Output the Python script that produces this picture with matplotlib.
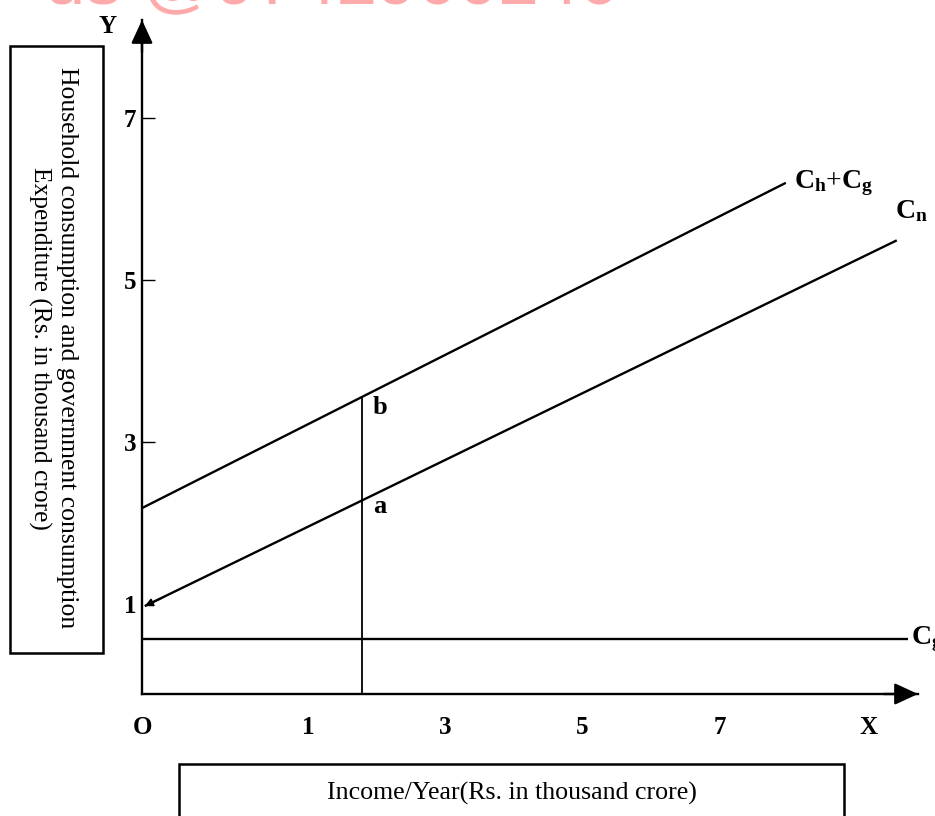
import matplotlib
matplotlib.use("Agg")
import matplotlib.pyplot as plt
from matplotlib.patches import Rectangle

W, H = 935, 816
plt.rcParams["font.family"] = ["Liberation Serif", "DejaVu Serif"]
plt.rcParams["mathtext.fontset"] = "custom"
plt.rcParams["mathtext.rm"] = "Liberation Serif"
plt.rcParams["mathtext.bf"] = "Liberation Serif:bold"
plt.rcParams["mathtext.it"] = "Liberation Serif:italic"

# ---------------- data (schematic value coordinates) ----------------
x_tick_values = [1, 3, 5, 7]
y_tick_values = [1, 3, 5, 7]
x_origin, x_end = -1.43, 9.9        # axis starts at the origin "O"
y_origin, y_end = -0.11, 8.21
x_letter_pos = 9.18                  # position of the "X" label

chcg_x = [-1.43, 7.97]               # C_h + C_g line
chcg_y = [2.185, 6.20]
cn_x = [-1.39, 9.59]                 # C_n line
cn_y = [0.975, 5.49]
cg_x = [-1.43, 9.75]                 # C_g (government) horizontal line
cg_y = [0.568, 0.568]
income_x = 1.78                      # vertical income line
point_b = (1.78, 3.556)
point_a = (1.78, 2.278)

y_title = "Household consumption and government consumption"
y_title2 = "Expenditure (Rs. in thousand crore)"
x_title = "Income/Year(Rs. in thousand crore)"

# ---------------- figure ----------------
fig = plt.figure(figsize=(W / 100, H / 100), dpi=100)
fig.patch.set_facecolor("white")

def fx(px):
    return px / W

def fy(py):
    return 1 - py / H

ax = fig.add_axes([fx(142), fy(694), (918 - 142) / W, (694 - 20) / H])
ax.set_xlim(x_origin, x_end)
ax.set_ylim(y_origin, y_end)
ax.patch.set_alpha(0)
for s in ["top", "right"]:
    ax.spines[s].set_visible(False)
for s in ["left", "bottom"]:
    ax.spines[s].set_linewidth(1.7)
    ax.spines[s].set_color("black")

# ticks
ax.set_xticks([x_origin] + x_tick_values + [x_letter_pos],
              ["O"] + [str(v) for v in x_tick_values] + ["X"])
ax.tick_params(axis="x", length=0, pad=16, labelsize=18)
for lab in ax.get_xticklabels():
    lab.set_fontweight("bold")
ax.set_yticks(y_tick_values, [str(v) for v in y_tick_values])
ax.tick_params(axis="y", direction="in", length=9, width=1.0, pad=4, labelsize=18)
for lab in ax.get_yticklabels():
    lab.set_fontweight("bold")
ax.yaxis.get_major_ticks()[0].tick1line.set_visible(False)

# axis arrowheads
arrow_kw = dict(arrowstyle="-|>,head_length=0.65,head_width=0.3", color="black",
                lw=1.7, mutation_scale=22, shrinkA=0, shrinkB=0)
ax.annotate("", xy=(x_end, y_origin), xytext=(x_end - 0.5, y_origin),
            arrowprops=arrow_kw, annotation_clip=False)
ax.annotate("", xy=(x_origin, y_end), xytext=(x_origin, y_end - 0.4),
            arrowprops=arrow_kw, annotation_clip=False)
ax.text(-1.94, 8.13, "Y", fontsize=18, fontweight="bold", ha="center", va="center")

# lines
lw = 1.7
ax.plot(chcg_x, chcg_y, color="black", lw=lw, clip_on=False, solid_capstyle="butt")
ax.plot(cn_x, cn_y, color="black", lw=lw, clip_on=False, solid_capstyle="butt")
ax.plot(cg_x, cg_y, color="black", lw=lw, clip_on=False, solid_capstyle="butt")
ax.plot([income_x, income_x], [y_origin, point_b[1]], color="black", lw=1.3)
# little arrowhead at start of C_n
ax.annotate("", xy=(cn_x[0], cn_y[0]), xytext=(cn_x[0] + 0.25, cn_y[0] + 0.1),
            arrowprops=dict(arrowstyle="-|>,head_length=0.4,head_width=0.2",
                            color="black", lw=1.2, mutation_scale=12,
                            shrinkA=0, shrinkB=0))

# point labels
ax.text(point_b[0] + 0.16, point_b[1] - 0.13, "b", fontsize=19, fontweight="bold",
        ha="left", va="center")
ax.text(point_a[0] + 0.16, point_a[1] - 0.07, "a", fontsize=19, fontweight="bold",
        ha="left", va="center")

# line labels
ax.text(chcg_x[1] + 0.12, chcg_y[1], r"$\mathbf{C_h}$+$\mathbf{C_g}$", fontsize=20,
        ha="left", va="center", clip_on=False)
ax.text(cn_x[1] - 0.02, cn_y[1] + 0.2, r"$\mathbf{C_n}$", fontsize=20,
        ha="left", va="bottom", clip_on=False)
ax.text(cg_x[1] + 0.05, cg_y[1], r"$\mathbf{C_g}$", fontsize=20,
        ha="left", va="center", clip_on=False)

# ---------------- boxes with titles ----------------
fig.patches.append(Rectangle((fx(10), fy(653)), (103 - 10) / W, (653 - 46) / H,
                             transform=fig.transFigure, fill=False, lw=1.8,
                             edgecolor="black"))
fig.patches.append(Rectangle((fx(179), fy(830)), (844 - 179) / W, (830 - 764) / H,
                             transform=fig.transFigure, fill=False, lw=1.8,
                             edgecolor="black"))

t1 = fig.text(fx(67), fy(348), y_title, rotation=270, ha="center", va="center",
              fontsize=15)
t2 = fig.text(fx(40), fy(348), y_title2, rotation=270, ha="center", va="center",
              fontsize=15)
t3 = fig.text(fx(512), fy(793), x_title, ha="center", va="center", fontsize=15)

# watermark fragment at the top
wm = fig.text(fx(45), fy(3), "us @9742900240", color="#ffaaaa", fontsize=50,
              family="Liberation Sans", ha="left", va="baseline")

fig.canvas.draw()
r = fig.canvas.get_renderer()

def fit(t, target, vertical=False):
    for _ in range(3):
        bb = t.get_window_extent(r)
        cur = bb.height if vertical else bb.width
        t.set_fontsize(t.get_fontsize() * target / cur)

fit(t1, 561, vertical=True)
fit(t2, 364, vertical=True)
fit(t3, 370)
fit(wm, 575)

fig.savefig("out.png", dpi=100, facecolor="white")
